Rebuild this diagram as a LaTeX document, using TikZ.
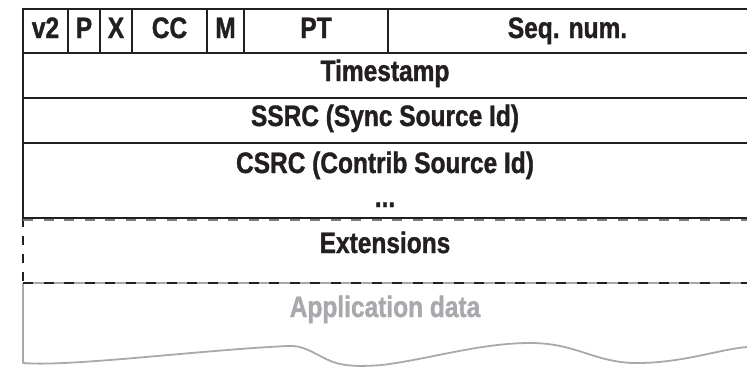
\documentclass[tikz,border=0pt]{standalone}
\usepackage{fontspec}
\newfontfamily\hdrfont[FakeStretch=0.83,FakeBold=1.2]{Liberation Sans Bold}
\definecolor{ink}{HTML}{231F20}
\definecolor{faint}{HTML}{A7A9AC}
\begin{document}
\begin{tikzpicture}[x=1pt,y=-1pt,
  field/.style={anchor=base, inner sep=0pt, text=ink,
    font=\hdrfont\fontsize{29.5}{32}\selectfont},
  appfield/.style={field, text=faint},
  rule/.style={draw=ink, line width=2.6pt},
  divider/.style={draw=ink, line width=2.2pt},
  dashrule/.style={draw=ink, line width=2.4pt, dash pattern=on 10pt off 10.5pt},
  appline/.style={draw=faint, line width=1.8pt}]
\useasboundingbox (0,0) rectangle (747,367);

% application data area (grey, open bottom with torn edge)
\draw[appline] (23,283) -- (747,283);
\draw[appline, line join=round] (23,283) -- (23,363)
  .. controls (70,367) and (200,350) .. (288,346)
  .. controls (302,345) and (312,352) .. (326,359)
  .. controls (340,366) and (355,367) .. (382,365)
  .. controls (430,359) and (480,343) .. (530,343)
  .. controls (575,343) and (592,361) .. (632,363)
  .. controls (680,364) and (720,349) .. (747,347);

% optional extension header: dashed borders
\draw[dashrule] (23,283) -- (747,283);
\draw[dashrule, dash pattern=on 9pt off 9pt] (23,218) -- (23,283);
\draw[dashrule, draw=ink!60] (23,219.5) -- (747,219.5);

% fixed header: outer frame and word rows
\draw[rule, line cap=rect] (23,218) -- (23,9) -- (747,9);
\draw[rule] (23,53) -- (747,53);
\draw[rule] (23,98) -- (747,98);
\draw[rule] (23,143) -- (747,143);
\draw[rule] (23,218) -- (747,218);

% bit field dividers of the first word
\foreach \x in {68,100,132,207,244,388}
  \draw[divider] (\x,9) -- (\x,53);

% field labels
\node[field] (v2)  at (45.5,38) {v2};
\node[field] (p)   at (84,38)   {P};
\node[field] (x)   at (116,38)  {X};
\node[field] (cc)  at (169.5,38) {CC};
\node[field] (m)   at (225.5,38) {M};
\node[field] (pt)  at (316,38)  {PT};
\node[field] (seq) at (567.5,38) {Seq. num.};
\node[field] (ts)   at (385,81)  {Timestamp};
\node[field] (ssrc) at (385,126) {SSRC (Sync Source Id)};
\node[field] (csrc) at (385,173) {CSRC (Contrib Source Id)};
\node[field] (more) at (385,207) {...};
\node[field] (ext)  at (385,253) {Extensions};
\node[appfield] (app) at (385,317) {Application data};
\end{tikzpicture}
\end{document}
